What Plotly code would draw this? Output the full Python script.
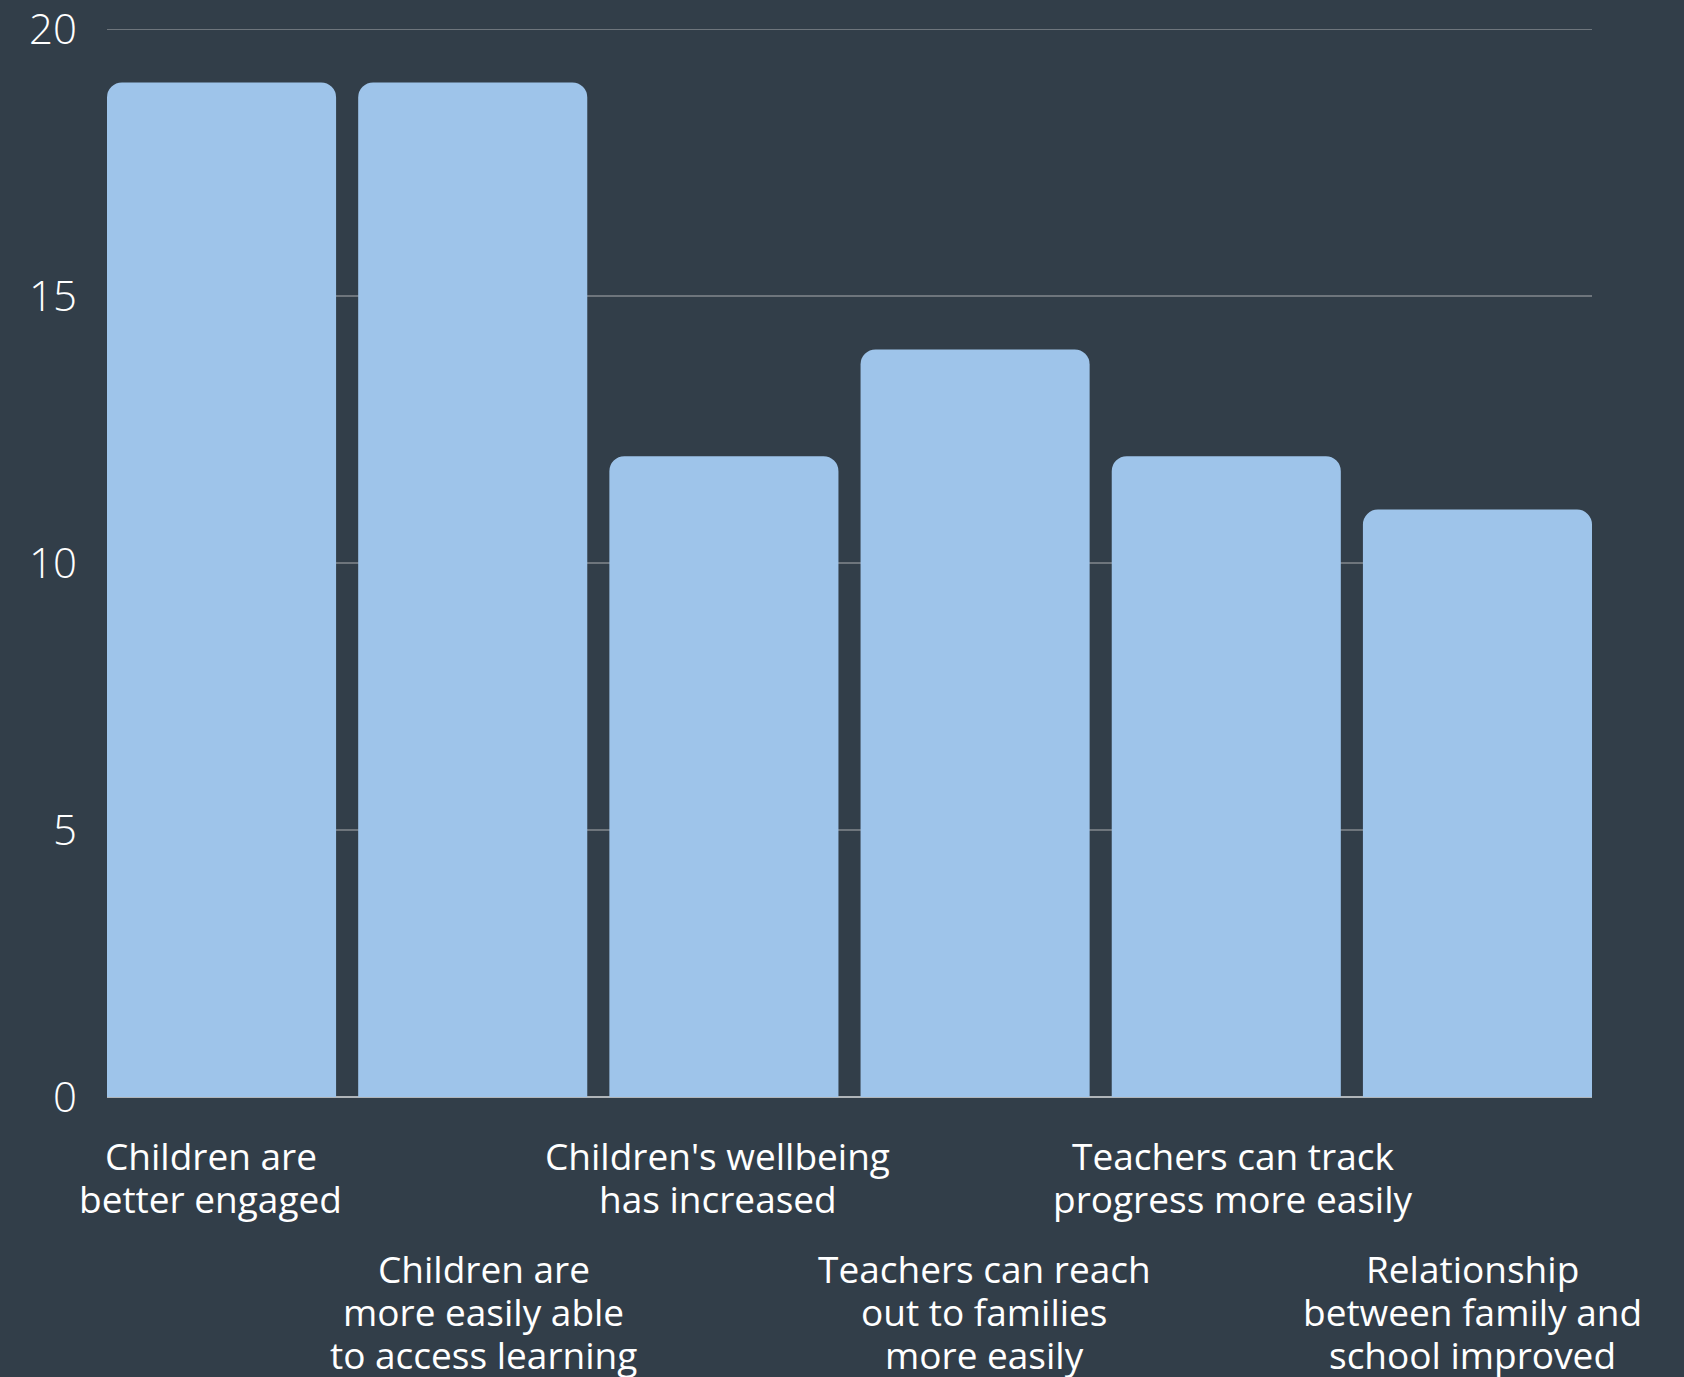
import plotly.graph_objects as go

categories = [
    "Children are<br>better engaged",
    "Children are<br>more easily able<br>to access learning",
    "Children's wellbeing<br>has increased",
    "Teachers can reach<br>out to families<br>more easily",
    "Teachers can track<br>progress more easily",
    "Relationship<br>between family and<br>school improved",
]
values = [19, 19, 12, 14, 12, 11]
y_ticks = [0, 5, 10, 15, 20]

BG = "#323e49"
BAR = "#9ec4ea"
TEXT = "#ffffff"
FONT = "Open Sans"

bar_width = 0.912
line_gap = 43      # px between label lines
row_gap = 113      # px between the two staggered label rows
first_line = 58    # px below the x axis to the middle of the first line
label_nudge = [-11, 11, -6, 9, 7, -5]  # small horizontal offsets of the labels, px

fig = go.Figure(
    go.Bar(
        x=categories,
        y=values,
        width=bar_width,
        marker=dict(color=BAR, line=dict(width=0)),
        hoverinfo="skip",
    )
)

for i, cat in enumerate(categories):
    row = i % 2
    for k, line in enumerate(cat.split("<br>")):
        fig.add_annotation(
            x=cat,
            y=0,
            xref="x",
            yref="paper",
            yanchor="middle",
            xanchor="center",
            xshift=label_nudge[i],
            yshift=-(first_line + row * row_gap + k * line_gap),
            text=line,
            showarrow=False,
            font=dict(family=FONT, size=37, color=TEXT),
        )

fig.update_layout(
    width=1684,
    height=1377,
    paper_bgcolor=BG,
    plot_bgcolor=BG,
    margin=dict(l=107, r=92, t=29, b=280),
    barcornerradius=15,
    showlegend=False,
    font=dict(family=FONT, color=TEXT),
)
fig.update_xaxes(
    range=[-bar_width / 2, len(categories) - 1 + bar_width / 2],
    showticklabels=False,
    showgrid=False,
    zeroline=False,
    showline=False,
    ticks="",
)
fig.update_yaxes(
    range=[0, y_ticks[-1]],
    tickvals=y_ticks,
    ticktext=[str(t) for t in y_ticks],
    automargin=False,
    ticklabeloverflow="allow",
    showgrid=True,
    gridcolor="#6e757c",
    gridwidth=2,
    zeroline=True,
    zerolinecolor="#b0b5b9",
    zerolinewidth=2,
    showline=False,
    ticks="",
    ticklabelstandoff=29,
    tickfont=dict(family=FONT, size=42, color=TEXT, weight=300),
)
# top gridline at the last tick (Plotly drops the grid line on the range edge)
fig.add_shape(
    type="line",
    xref="paper",
    yref="y",
    x0=0,
    x1=1,
    y0=y_ticks[-1],
    y1=y_ticks[-1],
    line=dict(color="#6e757c", width=2),
    layer="below",
)

fig.write_html(
    "out.html",
    config={"displayModeBar": False},
    post_script="document.body.style.margin='0px';document.body.style.background='" + BG + "';",
)
